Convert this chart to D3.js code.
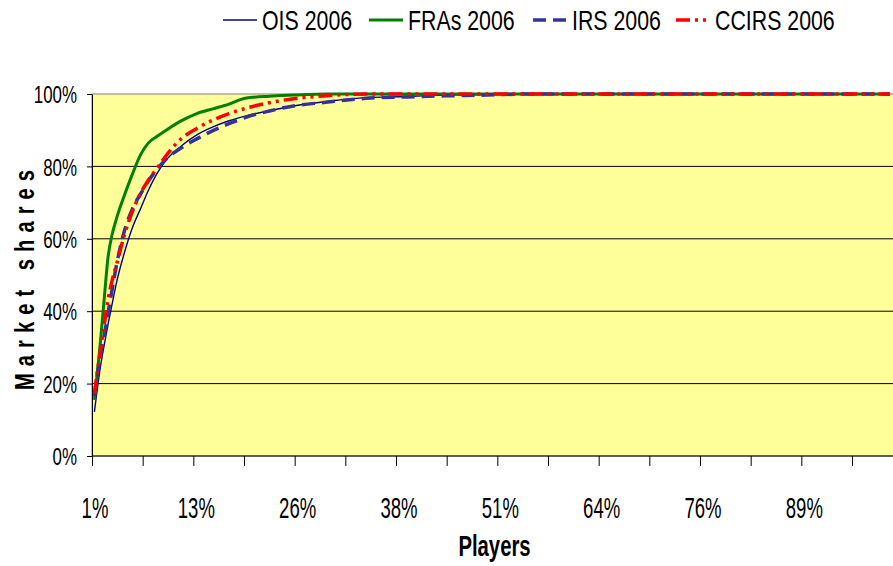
<!DOCTYPE html>
<html><head><meta charset="utf-8">
<script src="https://cdn.jsdelivr.net/npm/d3@7"></script>
<style>html,body{margin:0;padding:0;background:#fff;overflow:hidden}</style>
</head><body><svg id="c" width="893" height="566"></svg>
<script>
// ---- data ----
const playersPct = [1.3, 2, 2.5, 3, 3.5, 4, 5, 6, 7, 8, 9, 10, 12, 14, 16, 18, 20, 23, 26, 30, 35, 40, 45, 50, 55, 60, 70, 80, 90, 100];
const oisValues   = [12.2, 24, 30.5, 36.5, 42, 47.5, 56, 63, 68.2, 73.4, 77.8, 81.2, 85.5, 88.7, 90.9, 92.6, 93.9, 95.4, 96.7, 97.9, 99.0, 99.3, 99.7, 99.8, 100, 100, 100, 100, 100, 100];
const fraValues   = [15.5, 30.5, 43, 55.1, 61.2, 65.3, 71.9, 77.8, 83.1, 86.5, 88.2, 89.7, 92.5, 94.6, 95.9, 97.2, 98.8, 99.4, 99.7, 100, 100, 100, 100, 100, 100, 100, 100, 100, 100, 100];
const irsValues   = [16.5, 27.5, 33, 39.7, 46, 52.3, 62, 68.2, 72.3, 76, 79, 81.6, 85, 87.6, 89.9, 91.8, 93.5, 95.3, 96.7, 97.7, 98.8, 99.2, 99.5, 99.7, 100, 100, 100, 100, 100, 100];
const ccirsValues = [17.3, 28.5, 36, 43.3, 48.5, 52.5, 60.9, 67.5, 72.5, 76.2, 79.3, 82.4, 87.5, 90.5, 92.8, 94.6, 96, 97.6, 98.7, 99.5, 100, 100, 100, 100, 100, 100, 100, 100, 100, 100];
const seriesNames = ["OIS 2006", "FRAs 2006", "IRS 2006", "CCIRS 2006"];
const yTickValues = [0, 20, 40, 60, 80, 100];
const xTickLabels = ["1%", "13%", "26%", "38%", "51%", "64%", "76%", "89%"];

// ---- styles ----
const seriesStyle = [
  {color: "#000080", width: 1.4, dash: null},
  {color: "#008000", width: 3, dash: null},
  {color: "#333399", width: 3.5, dash: "13,7"},
  {color: "#FF0000", width: 3.5, dash: "14,5,3,5,3,5"}
];
const FONT = "'Liberation Sans', Arial, sans-serif";

const svg = d3.select("#c");
svg.append("rect").attr("width", 893).attr("height", 566).attr("fill", "#fff");

const x = d3.scaleLinear().domain([1, 100]).range([92, 890]);
const y = d3.scaleLinear().domain([0, 100]).range([456, 94]);

// plot area
svg.append("rect").attr("x", x(1)).attr("y", y(100))
  .attr("width", 900 - x(1)).attr("height", y(0) - y(100))
  .attr("fill", "#FFFF99").attr("stroke", "#808080").attr("stroke-width", 1);

// gridlines
svg.append("g").selectAll("line").data(yTickValues.filter(d => d > 0 && d < 100)).join("line")
  .attr("x1", x(1)).attr("x2", 900).attr("y1", d => y(d)).attr("y2", d => y(d))
  .attr("stroke", "#000").attr("stroke-width", 1);

// y axis
const yAxis = svg.append("g").attr("transform", `translate(${x(1)},0)`)
  .call(d3.axisLeft(y).tickValues(yTickValues).tickSize(5).tickSizeOuter(0).tickFormat(d => d + "%"));
yAxis.select(".domain").attr("stroke", "#000");
yAxis.selectAll(".tick line").attr("stroke", "#000");
yAxis.selectAll(".tick text")
  .attr("x", -15 / 0.705).attr("dy", "0.36em")
  .attr("transform", "scale(0.705,1)")
  .style("font-family", FONT).style("font-size", "24px").attr("fill", "#000");

// x axis
const xTickValues = d3.range(16).map(i => 1 + i * 99 / 15.75);
const xAxis = svg.append("g").attr("transform", `translate(0,${y(0)})`)
  .call(d3.axisBottom(x).tickValues(xTickValues).tickSize(10).tickSizeOuter(0)
    .tickFormat((d, i) => i % 2 === 0 ? xTickLabels[i / 2] : ""));
xAxis.select(".domain").attr("stroke", "#000").attr("d", `M${x(1)},0H900`);
xAxis.selectAll(".tick line").attr("stroke", "#000");
xAxis.selectAll(".tick text")
  .attr("x", 2.5 / 0.64).attr("y", 62).attr("dy", 0)
  .attr("transform", "scale(0.64,1)")
  .style("font-family", FONT).style("font-size", "29px").attr("fill", "#000");

// series
const allValues = [oisValues, fraValues, irsValues, ccirsValues];
const line = d3.line().x(d => x(d[0])).y(d => y(d[1])).curve(d3.curveMonotoneX);
allValues.forEach((vals, k) => {
  const st = seriesStyle[k];
  svg.append("path").datum(playersPct.map((p, i) => [p, vals[i]]))
    .attr("d", line).attr("fill", "none")
    .attr("stroke", st.color).attr("stroke-width", st.width)
    .attr("stroke-dasharray", st.dash)
    .attr("stroke-linejoin", "round");
});

// axis titles
svg.append("text").attr("transform", "translate(494.5,556) scale(0.70,1)")
  .attr("text-anchor", "middle").style("font-family", FONT).style("font-size", "29px")
  .style("font-weight", "bold").text("Players");

svg.append("text").attr("transform", "translate(34,280) rotate(-90) scale(0.72,1)")
  .attr("text-anchor", "middle").style("font-family", FONT).style("font-size", "28px")
  .style("font-weight", "bold").attr("textLength", 220 / 0.72).attr("lengthAdjust", "spacing")
  .text("Market shares");

// legend
const legendX = [223, 369, 533, 676];
seriesNames.forEach((name, k) => {
  const st = seriesStyle[k];
  const g = svg.append("g").attr("transform", `translate(${legendX[k]},0)`);
  g.append("line").attr("x1", 0).attr("x2", 34).attr("y1", 20).attr("y2", 20)
    .attr("stroke", st.color).attr("stroke-width", st.width).attr("stroke-dasharray", st.dash);
  g.append("text").attr("transform", "translate(39,29.5) scale(0.79,1)")
    .style("font-family", FONT).style("font-size", "27px").text(name);
});
</script></body></html>
